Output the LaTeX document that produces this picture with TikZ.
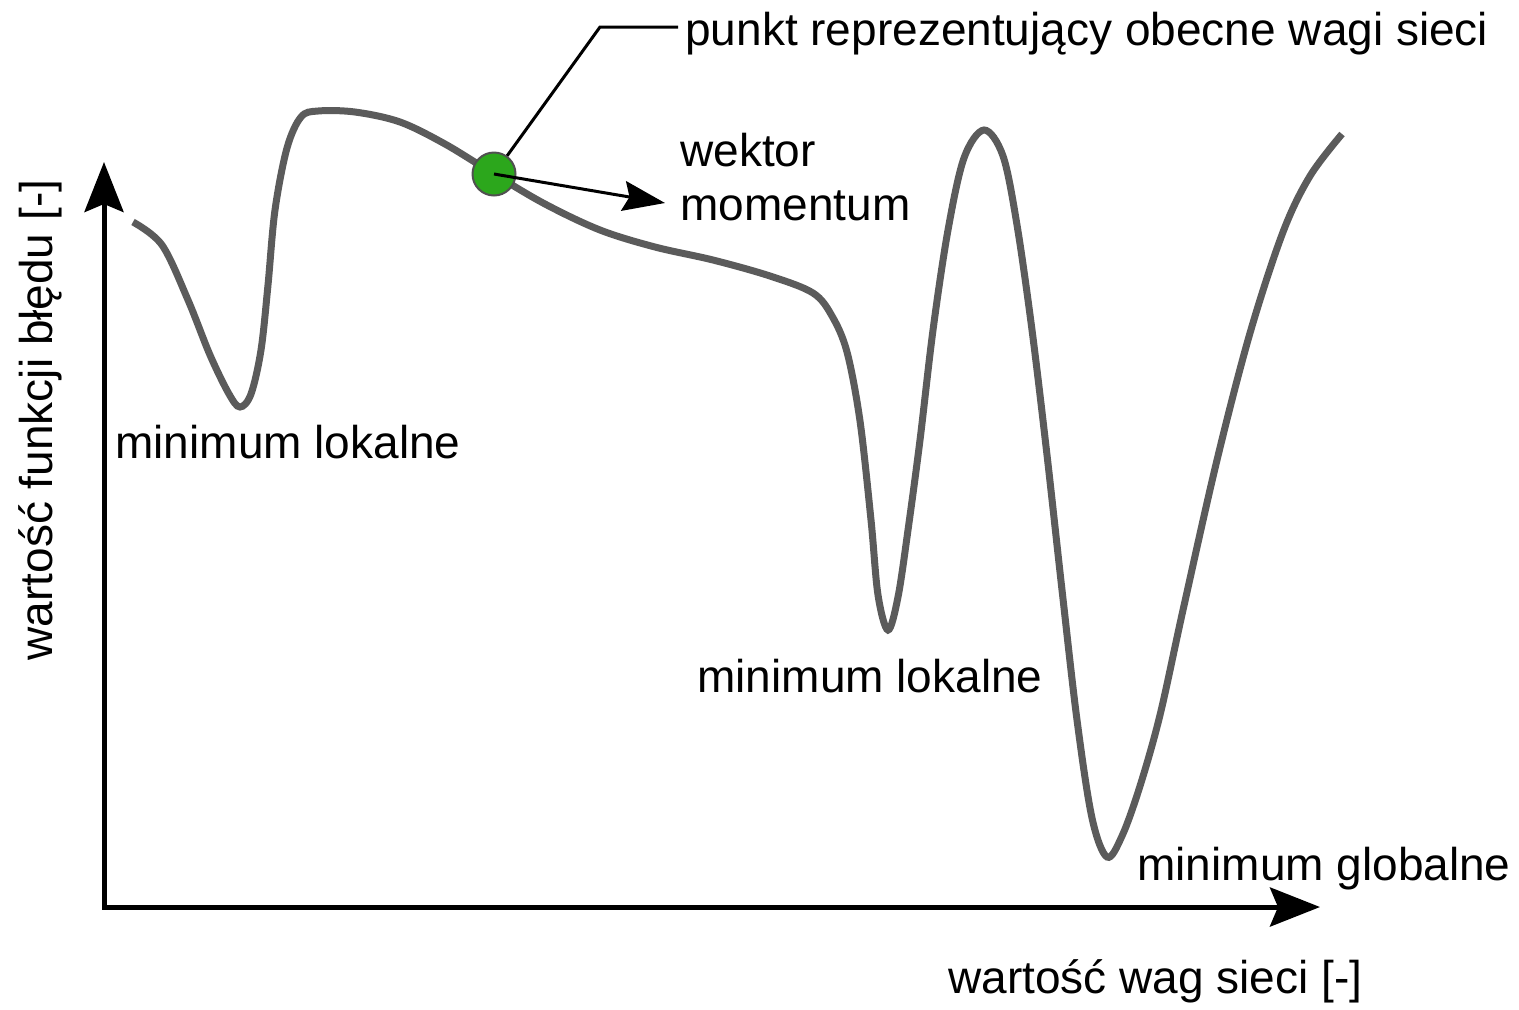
\documentclass[tikz,border=0pt]{standalone}
\usepackage{fontspec}
\setmainfont{Liberation Sans}
\usetikzlibrary{arrows.meta, positioning, calc}
\definecolor{curvegray}{HTML}{5B5B5B}
\definecolor{dotgreen}{HTML}{2CA71C}
\definecolor{dotrim}{HTML}{505050}

\begin{document}
\begin{tikzpicture}[
  x=0.5pt, y=-0.5pt,
  axis/.style={{Stealth[length=25pt, width=19.5pt, inset=4pt]}-{Stealth[length=25pt, width=19.5pt, inset=4pt]},
    line width=2.5pt, black},
  errcurve/.style={line width=3.5pt, curvegray},
  txt/.style={font=\fontsize{23pt}{27pt}\selectfont, inner sep=0pt, text=black},
  callout/.style={line width=1.5pt, black},
  momarrow/.style={-{Stealth[length=21pt, width=15pt, inset=3pt]}, line width=1.5pt, black},
  weightdot/.style={circle, draw=dotrim, line width=1pt, fill=dotgreen,
    minimum size=21.5pt, inner sep=0pt},
]

% Canvas
\useasboundingbox (0,0) rectangle (1519,1009);

% Axes
\coordinate (origin) at (104,907);
\coordinate (ytip) at (104,162);
\coordinate (xtip) at (1320,907);
\draw[axis] (ytip) -- (origin) -- (xtip);

\node[txt, anchor=base west] (xlabel) at (948,993) {wartość wag sieci [-]};
\node[txt, anchor=base, rotate=90] (ylabel) at (52,420) {wartość funkcji błędu [-]};

% Error curve
\draw[errcurve] plot[smooth, tension=0.55] coordinates {
  (133,222) (162,245) (188,300) (210,355) (229,394) (240,407)
  (251,394) (261,350) (268,285) (275,210) (287,148) (301,117) (318,111)
  (355,112) (400,122) (445,144) (494,174) (545,204) (600,230) (655,247)
  (713,260) (770,276) (813,293) (832,316) (847,352) (860,421) (871,520)
  (878,595) (888,630) (898,597) (908,530) (920,440) (933,330) (948,230)
  (964,158) (984,130) (1003,156) (1017,225) (1032,330) (1047,455)
  (1062,590) (1077,720) (1092,818) (1107,857) (1122,836) (1140,786)
  (1160,715) (1183,610) (1217,460) (1250,333) (1283,232) (1310,176)
  (1342,134)
};

% Current weights
\node[weightdot] (dot) at (494,174) {};

% Callout
\node[txt, anchor=base west] (ptlabel) at (685,45)
  {punkt reprezentujący obecne wagi sieci};
\coordinate (bend) at (600,27);
\draw[callout] (dot) -- (bend) -- ([xshift=-3.5pt]bend -| ptlabel.west);

% Momentum vector
\coordinate (momtip) at (665,203);
\draw[momarrow] (dot.center) -- (momtip);
\node[txt, anchor=base west] (momlabel) at (680,166) {wektor};
\node[txt, anchor=base west] (momlabel2) at (680,220) {momentum};

% Minima
\node[txt, anchor=base west] (minloc1) at (115,458) {minimum lokalne};
\node[txt, anchor=base west] (minloc2) at (697,692) {minimum lokalne};
\node[txt, anchor=base west] (minglob) at (1137,880) {minimum globalne};

\end{tikzpicture}
\end{document}
